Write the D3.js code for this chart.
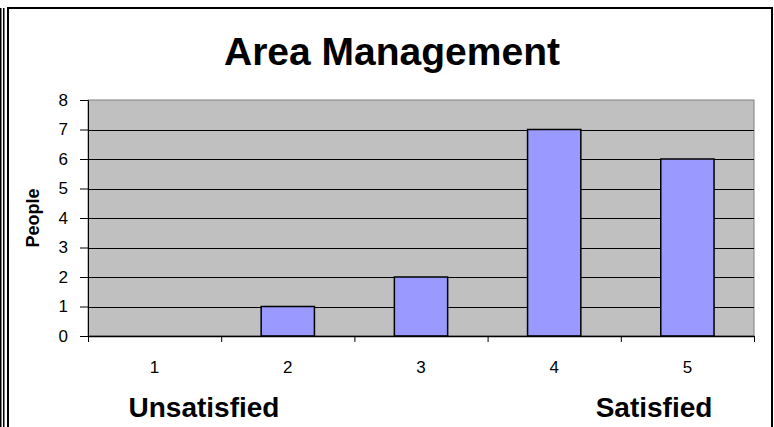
<!DOCTYPE html>
<html><head><meta charset="utf-8">
<script src="https://cdn.jsdelivr.net/npm/d3@7"></script>
<style>
html,body{margin:0;padding:0;background:#fff;}
svg{display:block;}
text{font-family:"Liberation Sans",Arial,sans-serif;}
</style></head>
<body>
<script>
const categories = ["1","2","3","4","5"];
const values = [0, 1, 2, 7, 6];
const yTicks = [0,1,2,3,4,5,6,7,8];
const title = "Area Management";
const yTitle = "People";
const leftNote = "Unsatisfied";
const rightNote = "Satisfied";

const W = 774, H = 427;
const svg = d3.select("body").append("svg").attr("width", W).attr("height", H);

// outer frame lines
svg.append("line").attr("x1",0.75).attr("x2",0.75).attr("y1",8).attr("y2",H).attr("stroke","#000").attr("stroke-width",1.5);
svg.append("line").attr("x1",3.75).attr("x2",3.75).attr("y1",8).attr("y2",H).attr("stroke","#000").attr("stroke-width",1.5);
svg.append("rect").attr("x",8).attr("y",8).attr("width",764).attr("height",H+10)
  .attr("fill","#fff").attr("stroke","#000").attr("stroke-width",2);

const plot = {left:88, top:100, right:754, bottom:336};
const x = d3.scaleBand().domain(categories).range([plot.left, plot.right]).paddingInner(0).paddingOuter(0);
const xEdges = d3.scaleLinear().domain([0, categories.length]).range([plot.left, plot.right]);
const y = d3.scaleLinear().domain([0, 8]).range([plot.bottom, plot.top]);

// plot background
svg.append("rect").attr("x",plot.left).attr("y",plot.top)
  .attr("width",plot.right-plot.left).attr("height",plot.bottom-plot.top)
  .attr("fill","#C0C0C0").attr("stroke","#808080").attr("stroke-width",1);

// gridlines
svg.append("g").selectAll("line").data(yTicks.filter(d => d > 0 && d < 8)).join("line")
  .attr("x1",plot.left).attr("x2",plot.right)
  .attr("y1",d => Math.round(y(d))+0.5).attr("y2",d => Math.round(y(d))+0.5)
  .attr("stroke","#000").attr("stroke-width",1);

// bars
const bw = x.bandwidth()*0.4;
svg.append("g").selectAll("rect").data(values.map((v,i)=>({c:categories[i], v}))).join("rect")
  .filter(d => d.v > 0)
  .attr("x", d => x(d.c) + (x.bandwidth()-bw)/2)
  .attr("y", d => y(d.v))
  .attr("width", bw)
  .attr("height", d => y(0) - y(d.v))
  .attr("fill","#9999FF").attr("stroke","#000").attr("stroke-width",1.5);

// y axis
const yAxis = svg.append("g").attr("transform",`translate(${plot.left},0)`)
  .call(d3.axisLeft(y).tickValues(yTicks).tickSize(8).tickPadding(12).tickFormat(d3.format("d")));
yAxis.selectAll("text").style("font-size","17px").style("font-family","'Liberation Sans', Arial, sans-serif").attr("fill","#000");
yAxis.selectAll("line,path").attr("stroke","#000");

// x axis tick marks at band edges
const xTickAxis = svg.append("g").attr("transform",`translate(0,${plot.bottom})`)
  .call(d3.axisBottom(xEdges).tickValues(d3.range(0, categories.length+1)).tickSize(6).tickSizeOuter(0).tickFormat(""));
xTickAxis.selectAll("line").attr("stroke","#000");
xTickAxis.select("path").attr("stroke","#000").attr("stroke-width",1.5);

// x labels at band centers
const xLab = svg.append("g").attr("transform",`translate(0,${plot.bottom})`)
  .call(d3.axisBottom(x).tickSize(0).tickPadding(25));
xLab.select("path").remove();
xLab.selectAll("text").style("font-size","17px").style("font-family","'Liberation Sans', Arial, sans-serif").attr("fill","#000");

// title
svg.append("text").attr("x",392).attr("y",65).attr("text-anchor","middle")
  .attr("font-size",39).attr("font-weight","bold").text(title);

// y title
svg.append("text").attr("transform",`translate(39,${(plot.top+plot.bottom)/2}) rotate(-90)`)
  .attr("text-anchor","middle").attr("font-size",18).attr("font-weight","bold").text(yTitle);

// notes
svg.append("text").attr("x",204).attr("y",417).attr("text-anchor","middle")
  .attr("font-size",28).attr("font-weight","bold").text(leftNote);
svg.append("text").attr("x",654).attr("y",417).attr("text-anchor","middle")
  .attr("font-size",28).attr("font-weight","bold").text(rightNote);
</script>
</body></html>
